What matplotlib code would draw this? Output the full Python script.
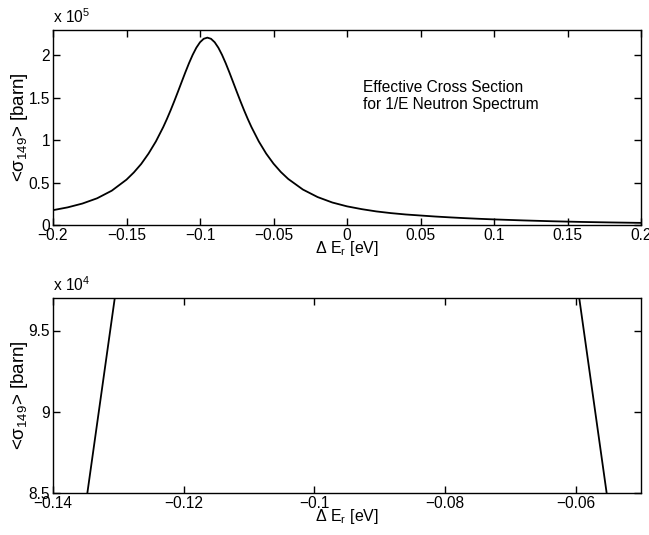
import matplotlib
matplotlib.use("Agg")
import matplotlib.pyplot as plt
from matplotlib.ticker import FixedLocator, FuncFormatter

plt.rcParams['font.family'] = ['Liberation Sans', 'DejaVu Sans']
plt.rcParams['mathtext.fontset'] = 'custom'
plt.rcParams['mathtext.rm'] = 'Liberation Sans'
plt.rcParams['mathtext.it'] = 'Liberation Sans:italic'
plt.rcParams['mathtext.bf'] = 'Liberation Sans:bold'
plt.rcParams['axes.unicode_minus'] = True

# Data (energy shift [eV], effective cross section [barn])
delta_er = [-0.200, -0.190, -0.180, -0.170, -0.160, -0.150, -0.145, -0.140,
            -0.135, -0.130, -0.125, -0.1225, -0.120, -0.1175, -0.115, -0.1125,
            -0.110, -0.1075, -0.105, -0.1025, -0.100, -0.0975, -0.095, -0.0925,
            -0.090, -0.0875, -0.085, -0.0825, -0.080, -0.0775, -0.075, -0.0725,
            -0.070, -0.0675, -0.065, -0.060, -0.055, -0.050, -0.045, -0.040,
            -0.030, -0.020, -0.010, 0.000, 0.010, 0.020, 0.030, 0.040, 0.050,
            0.060, 0.070, 0.080, 0.090, 0.100, 0.120, 0.140, 0.160, 0.180, 0.200]
sigma_eff = [17500, 20800, 25300, 31500, 40500, 53500, 62000, 72000,
             84261, 98555, 115536, 125069, 135259, 146023, 157217, 168624,
             179938, 190771, 200650, 209073, 215535, 219608, 221000, 219608,
             215535, 209073, 200650, 190771, 179938, 168624, 157217, 146023,
             135259, 125069, 115536, 98555, 84261, 72369, 62507, 54325,
             41815, 32960, 26537, 22000, 18700, 16000, 14000, 12400, 11200,
             10000, 9000, 8100, 7300, 6600, 5400, 4400, 3600, 3000, 2500]

top_xticks = [-0.2, -0.15, -0.1, -0.05, 0, 0.05, 0.1, 0.15, 0.2]
top_yticks = [0, 0.5e5, 1e5, 1.5e5, 2e5]
bot_xticks = [-0.14, -0.12, -0.1, -0.08, -0.06]
bot_yticks = [8.5e4, 9e4, 9.5e4]

annotation = "Effective Cross Section\nfor 1/E Neutron Spectrum"
ylabel = "<σ$_{\\mathrm{149}}$> [barn]"
xlabel = "Δ E$_{\\mathrm{r}}$ [eV]"

FS_TICK = 11.2
FS_X = 11.5
FS_Y = 13.5
FS_ANN = 11.2

fig = plt.figure(figsize=(6.49, 5.35), dpi=100)
W, H = 649, 535
ax1 = fig.add_axes([53 / W, (H - 225) / H, 588 / W, 195 / H])
ax2 = fig.add_axes([53 / W, (H - 493) / H, 588 / W, 195 / H])


def fmt_num(v, scale):
    s = "%g" % (v / scale)
    return s.replace("-", "\u2212")


def style(ax, xt, yt, scale, xlim, ylim):
    ax.set_xlim(*xlim)
    ax.set_ylim(*ylim)
    ax.xaxis.set_major_locator(FixedLocator(xt))
    ax.yaxis.set_major_locator(FixedLocator(yt))
    ax.xaxis.set_major_formatter(FuncFormatter(lambda v, p: fmt_num(v, 1)))
    ax.yaxis.set_major_formatter(FuncFormatter(lambda v, p: fmt_num(v, scale)))
    ax.tick_params(direction='in', top=True, right=True, length=5, width=1,
                   labelsize=FS_TICK, pad=2)
    for sp in ax.spines.values():
        sp.set_linewidth(1.0)
    ax.set_xlabel(xlabel, fontsize=FS_X, labelpad=-3)
    ax.set_ylabel(ylabel, fontsize=FS_Y, labelpad=-1)


ax1.plot(delta_er, sigma_eff, color='black', lw=1.3)
style(ax1, top_xticks, top_yticks, 1e5, (-0.2, 0.2), (0, 2.3e5))
ax1.text(0.0, 1.02, "x 10$^{5}$", transform=ax1.transAxes, fontsize=FS_TICK,
         ha='left', va='bottom')
ax1.text(0.527, 0.662, annotation, transform=ax1.transAxes, fontsize=FS_ANN,
         ha='left', va='center', linespacing=1.1)

ax2.plot(delta_er, sigma_eff, color='black', lw=1.3)
style(ax2, bot_xticks, bot_yticks, 1e4, (-0.14, -0.05), (8.5e4, 9.7e4))
ax2.text(0.0, 1.02, "x 10$^{4}$", transform=ax2.transAxes, fontsize=FS_TICK,
         ha='left', va='bottom')

fig.savefig("out.png", dpi=100)
